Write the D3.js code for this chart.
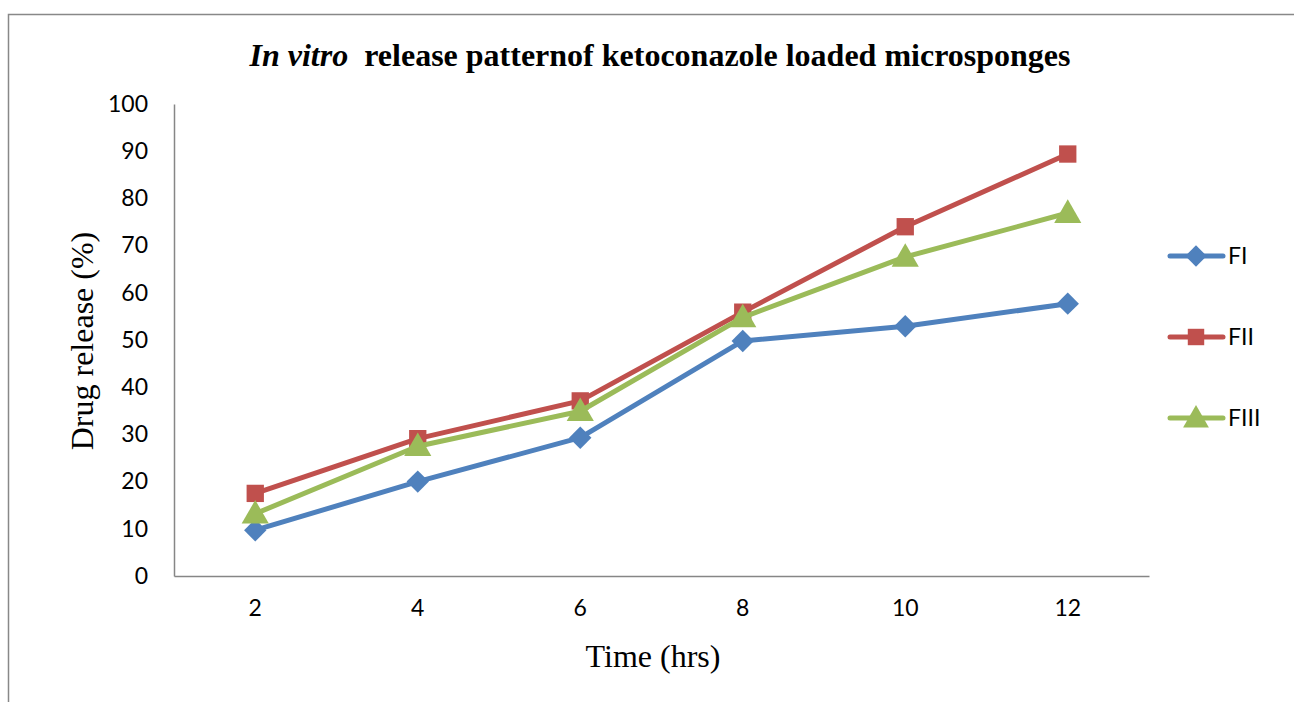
<!DOCTYPE html>
<html><head><meta charset="utf-8">
<script src="https://cdn.jsdelivr.net/npm/d3@7"></script>
<style>html,body{margin:0;padding:0;background:#fff;}</style>
</head><body>
<svg id="chart" width="1294" height="702"></svg>
<script>
const categories = [2, 4, 6, 8, 10, 12];
const seriesNames = ["FI", "FII", "FIII"];
const valuesFI = [9.7, 20.0, 29.3, 49.8, 52.9, 57.7];
const valuesFII = [17.5, 29.1, 37.1, 55.9, 74.0, 89.4];
const valuesFIII = [13.2, 27.5, 34.9, 54.8, 67.6, 76.9];
const yTicks = [0, 10, 20, 30, 40, 50, 60, 70, 80, 90, 100];
const colors = ["#4F81BD", "#C0504D", "#9BBB59"];
const symbols = [d3.symbolDiamond2, d3.symbolSquare, d3.symbolTriangle];

(function () {
const svg = d3.select("#chart");
const pLeft = 174, pRight = 1149, pTop = 104, pBottom = 576;
const x = d3.scaleBand().domain(categories).range([pLeft, pRight]);
const y = d3.scaleLinear().domain([0, 100]).range([pBottom, pTop]);
const axisColor = "#868686";
const tickFont = "Lato, 'Open Sans', sans-serif";
const serif = "'Liberation Serif', 'Times New Roman', serif";

// outer border
svg.append("path").attr("d", "M8.5,702 L8.5,14.5 L1294,14.5")
  .attr("fill", "none").attr("stroke", "#888").attr("stroke-width", 1.5);

// title
const title = svg.append("text").attr("x", 660).attr("y", 66)
  .attr("text-anchor", "middle").attr("font-family", serif)
  .attr("font-size", 32).attr("font-weight", "bold");
title.append("tspan").attr("font-style", "italic").text("In vitro");
title.append("tspan").text("\u00a0 release patternof ketoconazole loaded microsponges");

// y axis
const yAxis = d3.axisLeft(y).tickValues(yTicks).tickSize(0).tickPadding(26);
const gy = svg.append("g").attr("transform", `translate(${pLeft},0)`).call(yAxis);
gy.select(".domain").attr("stroke", axisColor).attr("stroke-width", 1.5);
gy.selectAll("text").attr("font-family", tickFont).attr("font-size", 23).attr("fill", "#000");

// x axis
const xAxis = d3.axisBottom(x).tickSize(0).tickPadding(24);
const gx = svg.append("g").attr("transform", `translate(0,${pBottom})`).call(xAxis);
gx.select(".domain").attr("stroke", axisColor).attr("stroke-width", 1.5);
gx.selectAll("text").attr("font-family", tickFont).attr("font-size", 23).attr("fill", "#000");

// axis titles
svg.append("text").attr("x", 653).attr("y", 667).attr("text-anchor", "middle")
  .attr("font-family", serif).attr("font-size", 32).text("Time (hrs)");
svg.append("text").attr("transform", "translate(93,341) rotate(-90)")
  .attr("text-anchor", "middle").attr("font-family", serif).attr("font-size", 32)
  .text("Drug release (%)");

const allSeries = [valuesFI, valuesFII, valuesFIII];
const cx = d => x(d) + x.bandwidth() / 2;
const line = d3.line().x((v, i) => cx(categories[i])).y(v => y(v));
const symSizes = [320, 300, 320];

allSeries.forEach((vals, s) => {
  svg.append("path").datum(vals).attr("d", line).attr("fill", "none")
    .attr("stroke", colors[s]).attr("stroke-width", 5).attr("stroke-linejoin", "round");
  svg.append("g").selectAll("path").data(vals).join("path")
    .attr("transform", (v, i) => `translate(${cx(categories[i])},${y(v) + (s === 2 ? 2 : 0)})`)
    .attr("d", d3.symbol().type(symbols[s]).size(symSizes[s]))
    .attr("fill", colors[s]);
});

// legend
const legY = [256, 337, 418];
seriesNames.forEach((n, s) => {
  const g = svg.append("g").attr("transform", `translate(0,${legY[s]})`);
  g.append("line").attr("x1", 1170).attr("x2", 1223).attr("y1", 0).attr("y2", 0)
    .attr("stroke", colors[s]).attr("stroke-width", 5).attr("stroke-linecap", "round");
  g.append("path").attr("transform", `translate(1196,${s === 2 ? 2 : 0})`)
    .attr("d", d3.symbol().type(symbols[s]).size(symSizes[s] * 0.9)).attr("fill", colors[s]);
  g.append("text").attr("x", 1228).attr("y", 8).attr("font-family", tickFont)
    .attr("font-size", 23).text(n);
});
})();
</script>
</body></html>
